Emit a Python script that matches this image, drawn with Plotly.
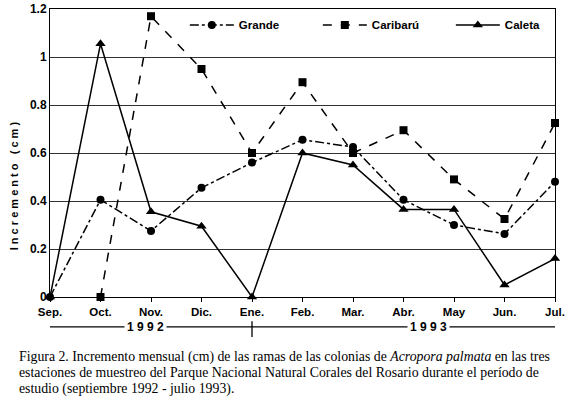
import plotly.graph_objects as go

months = ["Sep.", "Oct.", "Nov.", "Dic.", "Ene.", "Feb.", "Mar.", "Abr.", "May", "Jun.", "Jul."]
grande = [0, 0.405, 0.275, 0.455, 0.56, 0.655, 0.625, 0.405, 0.30, 0.263, 0.48]
cariburu = [None, 0, 1.17, 0.95, 0.60, 0.895, 0.60, 0.695, 0.49, 0.325, 0.725]
caleta = [0, 1.055, 0.355, 0.295, 0, 0.60, 0.55, 0.365, 0.365, 0.05, 0.16]
yticks = [0, 0.2, 0.4, 0.6, 0.8, 1.0, 1.2]
yticktext = ["0", "0.2", "0.4", "0.6", "0.8", "1", "1.2"]
years = ["1992", "1993"]
ytitle = "Incremento (cm)"
caption = ["Figura 2. Incremento mensual (cm) de las ramas de las colonias de <i>Acropora palmata</i> en las tres",
           "estaciones de muestreo del Parque Nacional Natural Corales del Rosario durante el período de",
           "estudio (septiembre 1992 - julio 1993)."]

x = list(range(len(months)))
lblfont = dict(family="Liberation Sans", size=11.5, color="black")

fig = go.Figure()
fig.add_trace(go.Scatter(x=x, y=grande, name="<b>Grande</b>", mode="lines+markers",
                         line=dict(color="black", width=1.5, dash="dashdot"),
                         marker=dict(symbol="circle", size=8, color="black"), cliponaxis=False))
fig.add_trace(go.Scatter(x=x, y=cariburu, name="<b>Caribarú</b>", mode="lines+markers",
                         line=dict(color="black", width=1.5, dash="dash"),
                         marker=dict(symbol="square", size=8, color="black"), cliponaxis=False))
fig.add_trace(go.Scatter(x=x, y=caleta, name="<b>Caleta</b>", mode="lines+markers",
                         line=dict(color="black", width=1.5),
                         marker=dict(symbol="triangle-up", size=9, color="black"), cliponaxis=False))

fig.update_xaxes(range=[0, 10], tickvals=x, ticktext=["<b>%s</b>" % m for m in months],
                 showgrid=False, zeroline=False, showline=True, linecolor="black", linewidth=1,
                 mirror=True, ticks="outside", ticklen=4, tickcolor="black", tickfont=lblfont,
                 automargin=False, ticklabeloverflow="allow")
fig.update_yaxes(range=[0, 1.2], tickvals=yticks, ticktext=["<b>%s</b>" % t for t in yticktext],
                 showgrid=True, gridcolor="#333", gridwidth=1, zeroline=False,
                 showline=True, linecolor="black", linewidth=1, mirror=True,
                 ticks="", tickfont=dict(family="Liberation Sans", size=12, color="black"),
                 automargin=False, ticklabeloverflow="allow")

# year brackets
y_br = -0.104
shapes = [
    dict(type="line", xref="x", yref="paper", x0=-0.16, x1=4, y0=y_br, y1=y_br, line=dict(color="black", width=1.3)),
    dict(type="line", xref="x", yref="paper", x0=4, x1=10.15, y0=y_br, y1=y_br, line=dict(color="black", width=1.3)),
    dict(type="line", xref="x", yref="paper", x0=-0.16, x1=-0.16, y0=y_br - 0.02, y1=y_br + 0.02, line=dict(color="black", width=1.3)),
    dict(type="line", xref="x", yref="paper", x0=4, x1=4, y0=y_br - 0.035, y1=y_br + 0.02, line=dict(color="black", width=1.3)),
    dict(type="line", xref="x", yref="paper", x0=10.15, x1=10.15, y0=y_br - 0.02, y1=y_br + 0.02, line=dict(color="black", width=1.3)),
]
annotations = [
    dict(text="<b>" + " ".join(years[0]) + "</b>", x=1.9, y=y_br, xref="x", yref="paper", showarrow=False,
         xanchor="center", yanchor="middle",
         bgcolor="white", font=dict(family="Liberation Sans", size=12, color="black"), borderpad=2),
    dict(text="<b>" + " ".join(years[1]) + "</b>", x=7.5, y=y_br, xref="x", yref="paper", showarrow=False,
         xanchor="center", yanchor="middle",
         bgcolor="white", font=dict(family="Liberation Sans", size=12, color="black"), borderpad=2),
    dict(text="<b>" + " ".join(ytitle) + "</b>", x=-0.071, y=0.385, xref="paper", yref="paper",
         showarrow=False, textangle=-90, xanchor="center", yanchor="middle",
         font=dict(family="Liberation Sans", size=11, color="black")),
]
for i, line in enumerate(caption):
    annotations.append(dict(text=line, x=-0.065, y=-0.208 - i * 0.0555, xref="paper", yref="paper",
                            xanchor="left", yanchor="middle", showarrow=False, align="left",
                            font=dict(family="Liberation Serif", size=13.8, color="black")))

fig.update_layout(
    width=568, height=396, margin=dict(l=50, r=13, t=9, b=99, autoexpand=False),
    paper_bgcolor="white", plot_bgcolor="white",
    showlegend=True,
    legend=dict(orientation="h", x=0.267, y=0.995, xanchor="left", yanchor="top",
                font=dict(family="Liberation Sans", size=11.5, color="black"),
                bgcolor="rgba(0,0,0,0)", itemwidth=44, entrywidth=74, entrywidthmode="pixels",
                tracegroupgap=0),
    shapes=shapes, annotations=annotations,
)

fig.write_html("out.html", config={"displayModeBar": False},
               post_script="document.body.style.margin='0';document.body.style.overflow='hidden';")
